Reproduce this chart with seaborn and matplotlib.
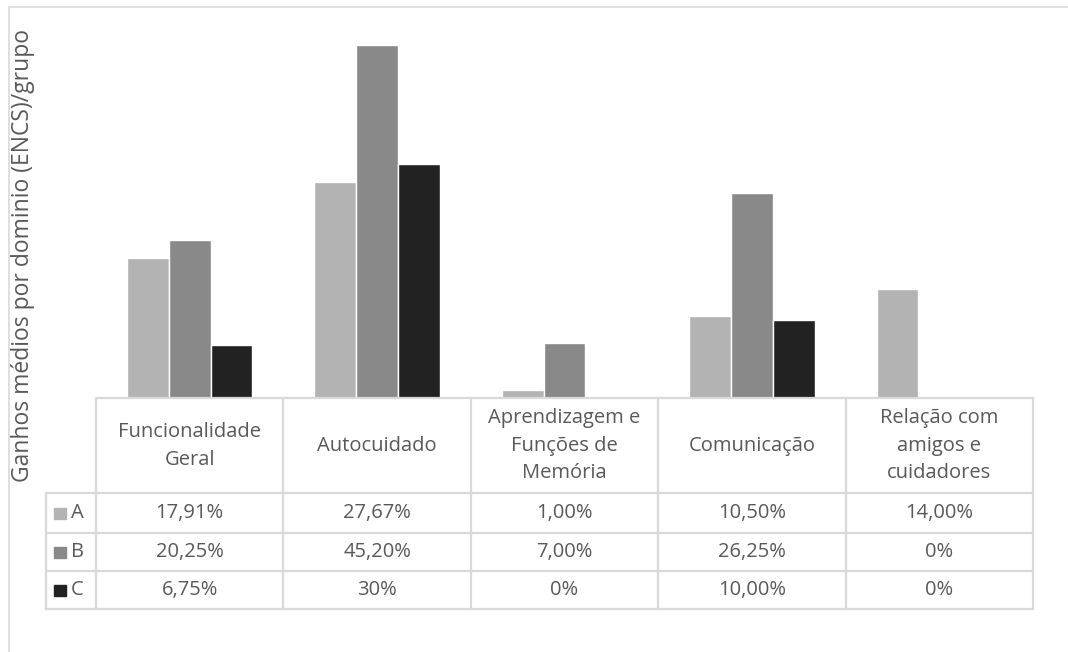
import numpy as np
import pandas as pd
import matplotlib
matplotlib.use("Agg")
import matplotlib.pyplot as plt
import seaborn as sns

# dados
dominios = ["Funcionalidade\nGeral", "Autocuidado", "Aprendizagem e\nFunções de\nMemória",
            "Comunicação", "Relação com\namigos e\ncuidadores"]
grupos = ["A", "B", "C"]
valores_a = [17.91, 27.67, 1.00, 10.50, 14.00]
valores_b = [20.25, 45.20, 7.00, 26.25, 0.0]
valores_c = [6.75, 30.0, 0.0, 10.00, 0.0]
rotulos_a = ["17,91%", "27,67%", "1,00%", "10,50%", "14,00%"]
rotulos_b = ["20,25%", "45,20%", "7,00%", "26,25%", "0%"]
rotulos_c = ["6,75%", "30%", "0%", "10,00%", "0%"]
cores = ["#b3b3b3", "#898989", "#222222"]

W, H = 1068, 652
sns.set_theme(style="white")
plt.rcParams['font.family'] = ['Open Sans', 'DejaVu Sans']
txt = "#595959"
grid = "#d9d9d9"

df = pd.DataFrame({
    "dominio": dominios * 3,
    "grupo": ["A"] * 5 + ["B"] * 5 + ["C"] * 5,
    "valor": valores_a + valores_b + valores_c,
})

fig = plt.figure(figsize=(W / 100, H / 100), dpi=100)

def fx(px):
    return px / W

def fy(py):
    return 1 - py / H

x0, x1 = 96, 1033
y_top, y_base, y_bot = 8, 398, 609
ax = fig.add_axes([fx(x0), fy(y_base), fx(x1) - fx(x0), fy(y_top) - fy(y_base)])
sns.barplot(data=df, x="dominio", y="valor", hue="grupo", palette=cores,
            width=0.67, ax=ax, legend=False, saturation=1)
ax.set_xlim(-0.5, 4.5)
ax.set_ylim(0, 50)
ax.set_xticks([])
ax.set_yticks([])
ax.set_xlabel("")
ax.set_ylabel("")
for s in ax.spines.values():
    s.set_visible(False)

# tabela de dados
tab = fig.add_axes([fx(x0), fy(y_bot), fx(x1) - fx(x0), fy(y_base) - fy(y_bot)])
tab.set_xlim(-0.5, 4.5)
tab.set_ylim(y_bot, y_base)
tab.axis("off")
colw = (x1 - x0) / 5
kx = -0.5 - (x0 - 46) / colw  # coluna da legenda
rows = [398, 493, 533, 571, 609]
lw = 1.6
tab.plot([-0.5, 4.5], [398, 398], color=grid, lw=lw, clip_on=False)
for r in rows[1:]:
    tab.plot([kx, 4.5], [r, r], color=grid, lw=lw, clip_on=False)
for i in range(6):
    tab.plot([i - 0.5, i - 0.5], [398, 609], color=grid, lw=lw, clip_on=False)
tab.plot([kx, kx], [493, 609], color=grid, lw=lw, clip_on=False)

fs = 14.5
for i, d in enumerate(dominios):
    tab.text(i, 446, d, ha="center", va="center", fontsize=fs, color=txt,
             linespacing=1.5)
linhas = [rotulos_a, rotulos_b, rotulos_c]
for j, (g, rot) in enumerate(zip(grupos, linhas)):
    yc = (rows[j + 1] + rows[j + 2]) / 2
    for i, r in enumerate(rot):
        tab.text(i, yc, r, ha="center", va="center", fontsize=fs, color=txt)
    tab.add_patch(plt.Rectangle((kx + 8 / colw, yc - 5.5), 12 / colw, 11,
                                color=cores[j], clip_on=False))
    tab.text(kx + 25 / colw, yc, g, ha="left", va="center", fontsize=fs, color=txt)

fig.text(fx(23), fy(255), "Ganhos médios por dominio (ENCS)/grupo", rotation=90,
         ha="center", va="center", fontsize=16.5, color=txt)

# moldura (sem lado direito visível)
fig.add_artist(plt.Rectangle((fx(9), fy(670)), fx(1090) - fx(9), fy(7) - fy(670),
                             fill=False, edgecolor=grid, lw=1.2, transform=fig.transFigure))

fig.savefig("out.png", dpi=100)
